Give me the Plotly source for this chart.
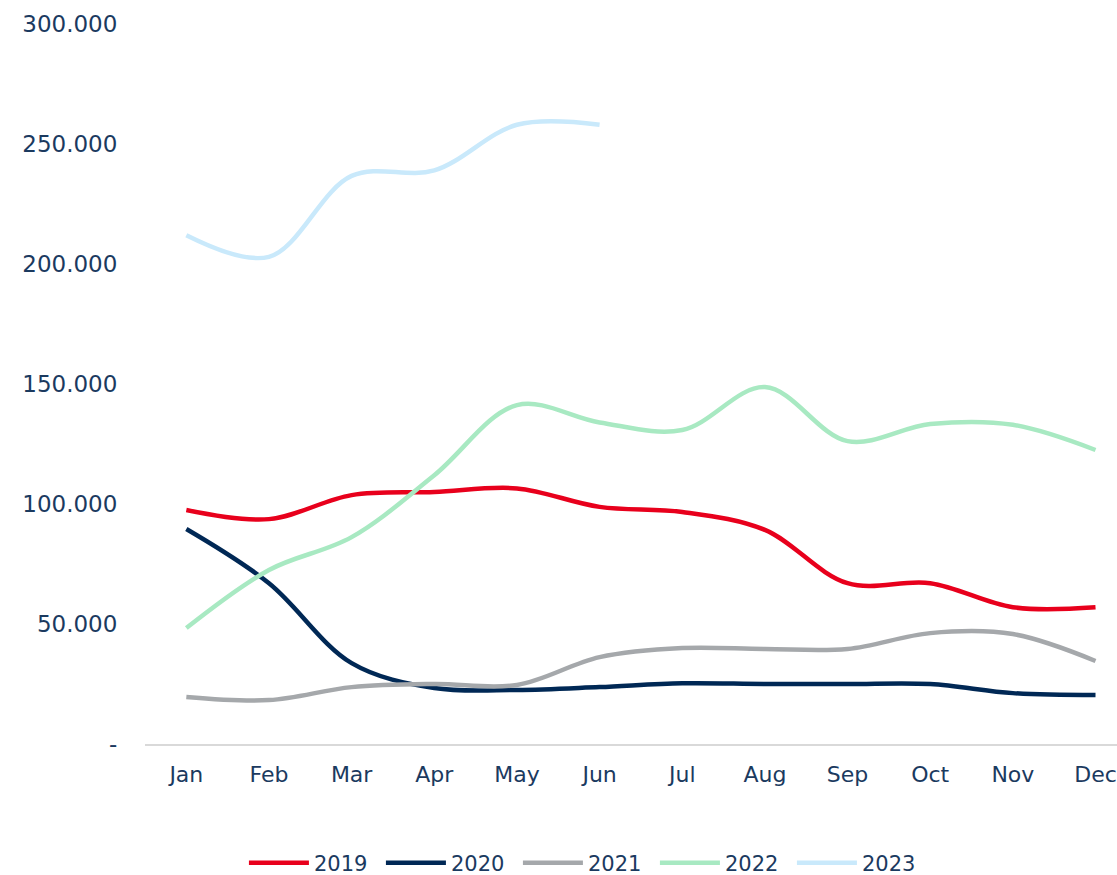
import plotly.graph_objects as go

months = ["Jan", "Feb", "Mar", "Apr", "May", "Jun", "Jul", "Aug", "Sep", "Oct", "Nov", "Dec"]

y2019 = [97500, 93700, 103700, 105000, 106500, 98800, 96700, 89200, 67000, 67000, 57000, 57000]
y2020 = [89600, 67000, 33700, 23300, 22500, 23700, 25300, 25000, 25000, 25000, 21200, 20400]
y2021 = [19600, 18300, 23700, 25000, 24600, 36200, 40000, 39600, 39600, 46200, 45800, 34600]
y2022 = [48300, 72500, 86200, 112000, 141200, 134000, 130800, 148700, 126200, 133300, 133000, 122500]
y2023 = [212000, 203000, 236700, 239000, 258000, 258000]

series = [
    ("2019", y2019, "#e8001c"),
    ("2020", y2020, "#002855"),
    ("2021", y2021, "#a5a8ab"),
    ("2022", y2022, "#a8e9c2"),
    ("2023", y2023, "#c9e9fb"),
]

ytickvals = [0, 50000, 100000, 150000, 200000, 250000, 300000]
yticktext = ["-", "50.000", "100.000", "150.000", "200.000", "250.000", "300.000"]

text_color = "#1b3a5f"
font_family = "DejaVu Sans"

fig = go.Figure()
for name, vals, color in series:
    fig.add_trace(go.Scatter(
        x=months[:len(vals)], y=vals, name=name, mode="lines",
        line=dict(color=color, width=4.5, shape="spline", smoothing=1.0),
    ))

fig.update_layout(
    width=1117, height=875,
    margin=dict(l=145, r=0, t=24, b=131),
    plot_bgcolor="white", paper_bgcolor="white",
    font=dict(family=font_family, size=22, color=text_color),
    showlegend=True,
    legend=dict(
        orientation="h", xref="container", yref="container",
        x=0.525, xanchor="center", y=1 - 863 / 875, yanchor="middle",
        font=dict(size=21, color=text_color),
        itemwidth=60,
        entrywidth=62, entrywidthmode="pixels",
        traceorder="normal",
    ),
)
fig.update_xaxes(
    type="category", range=[-0.5, 11.26],
    showgrid=False, showline=True, linecolor="#d9d9d9", linewidth=2,
    ticks="outside", ticklen=10, tickcolor="rgba(0,0,0,0)",
    tickfont=dict(size=22, color=text_color), zeroline=False,
)
fig.update_yaxes(
    range=[0, 300000], tickvals=ytickvals, ticktext=yticktext,
    showgrid=False, showline=False, zeroline=False,
    ticks="outside", ticklen=22, tickcolor="rgba(0,0,0,0)",
    tickfont=dict(size=23, color=text_color),
)

fig.write_html(
    "out.html",
    config={"displayModeBar": False},
    post_script="document.body.style.margin='0';document.body.style.overflow='hidden';",
)
